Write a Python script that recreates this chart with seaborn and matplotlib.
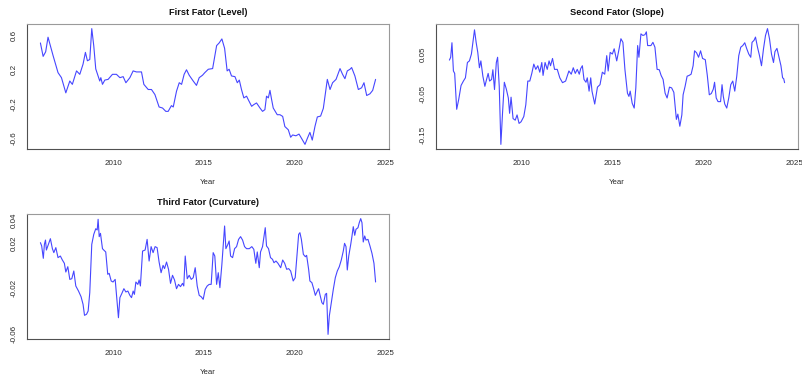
import matplotlib
matplotlib.use("Agg")
import matplotlib.pyplot as plt
import seaborn as sns
import pandas as pd
import numpy as np

# ---- Nelson-Siegel style factor series (decimal year, factor value) ----
level_year = [2006.00, 2006.15, 2006.29, 2006.42, 2006.70, 2006.97, 2007.16, 2007.40, 2007.62, 2007.76,
              2007.99, 2008.17, 2008.35, 2008.48, 2008.59, 2008.72, 2008.83, 2008.94, 2009.05, 2009.27,
              2009.33, 2009.42, 2009.55, 2009.73, 2009.97, 2010.19, 2010.38, 2010.56, 2010.71, 2010.93,
              2011.11, 2011.29, 2011.57, 2011.70, 2011.94, 2012.12, 2012.31, 2012.54, 2012.73, 2012.91,
              2013.04, 2013.22, 2013.32, 2013.50, 2013.65, 2013.78, 2013.92, 2014.05, 2014.20, 2014.42,
              2014.60, 2014.75, 2014.93, 2015.06, 2015.25, 2015.49, 2015.71, 2015.85, 2016.00, 2016.15,
              2016.29, 2016.40, 2016.53, 2016.72, 2016.85, 2016.96, 2017.08, 2017.21, 2017.36, 2017.45,
              2017.64, 2017.76, 2017.91, 2018.10, 2018.24, 2018.37, 2018.46, 2018.56, 2018.65, 2018.74,
              2018.83, 2019.05, 2019.20, 2019.35, 2019.47, 2019.66, 2019.79, 2019.90, 2020.08, 2020.25,
              2020.39, 2020.58, 2020.71, 2020.85, 2020.98, 2021.13, 2021.26, 2021.44, 2021.59, 2021.81,
              2021.96, 2022.10, 2022.29, 2022.51, 2022.65, 2022.78, 2022.91, 2023.06, 2023.15, 2023.33,
              2023.52, 2023.70, 2023.83, 2023.98, 2024.16, 2024.31, 2024.47]
level_value = [0.513, 0.356, 0.410, 0.580, 0.364, 0.167, 0.108, -0.069, 0.069, 0.030,
               0.187, 0.147, 0.266, 0.403, 0.305, 0.320, 0.680, 0.480, 0.210, 0.069,
               0.108, 0.030, 0.080, 0.088, 0.147, 0.147, 0.108, 0.120, 0.049, 0.108,
               0.187, 0.175, 0.175, 0.030, -0.030, -0.030, -0.089, -0.234, -0.246, -0.285,
               -0.285, -0.218, -0.234, -0.050, 0.049, 0.030, 0.147, 0.200, 0.136, 0.069,
               0.018, 0.108, 0.136, 0.167, 0.206, 0.214, 0.482, 0.513, 0.560, 0.450,
               0.187, 0.206, 0.128, 0.120, 0.049, 0.080, -0.030, -0.128, -0.108, -0.147,
               -0.226, -0.206, -0.187, -0.246, -0.285, -0.265, -0.108, -0.128, -0.040, -0.147,
               -0.246, -0.324, -0.324, -0.344, -0.462, -0.500, -0.587, -0.560, -0.570, -0.550,
               -0.600, -0.670, -0.600, -0.530, -0.620, -0.460, -0.350, -0.340, -0.250, 0.088,
               -0.030, 0.049, 0.088, 0.214, 0.147, 0.096, 0.187, 0.206, 0.226, 0.128,
               -0.030, -0.010, 0.049, -0.100, -0.080, -0.040, 0.088]

slope_year = [2006.04, 2006.11, 2006.18, 2006.26, 2006.33, 2006.44, 2006.55, 2006.68, 2006.81, 2006.92,
              2007.03, 2007.14, 2007.25, 2007.33, 2007.42, 2007.51, 2007.60, 2007.69, 2007.77, 2007.88,
              2007.99, 2008.06, 2008.17, 2008.25, 2008.36, 2008.43, 2008.52, 2008.62, 2008.69, 2008.78,
              2008.87, 2008.96, 2009.06, 2009.17, 2009.28, 2009.35, 2009.43, 2009.54, 2009.66, 2009.76,
              2009.87, 2009.98, 2010.13, 2010.24, 2010.35, 2010.46, 2010.57, 2010.68, 2010.79, 2010.90,
              2011.01, 2011.12, 2011.19, 2011.30, 2011.42, 2011.52, 2011.60, 2011.71, 2011.82, 2011.97,
              2012.11, 2012.26, 2012.43, 2012.61, 2012.74, 2012.85, 2012.96, 2013.07, 2013.18, 2013.26,
              2013.35, 2013.44, 2013.55, 2013.62, 2013.72, 2013.81, 2013.88, 2014.03, 2014.18, 2014.32,
              2014.45, 2014.58, 2014.69, 2014.77, 2014.88, 2015.00, 2015.10, 2015.24, 2015.37, 2015.47,
              2015.58, 2015.69, 2015.83, 2015.91, 2015.98, 2016.09, 2016.20, 2016.29, 2016.39, 2016.46,
              2016.57, 2016.68, 2016.79, 2016.87, 2016.94, 2017.12, 2017.23, 2017.34, 2017.46, 2017.58,
              2017.68, 2017.79, 2017.90, 2018.01, 2018.14, 2018.26, 2018.38, 2018.45, 2018.52, 2018.60,
              2018.71, 2018.82, 2018.89, 2019.00, 2019.11, 2019.22, 2019.33, 2019.44, 2019.52, 2019.63,
              2019.74, 2019.85, 2019.96, 2020.11, 2020.22, 2020.33, 2020.44, 2020.55, 2020.62, 2020.71,
              2020.81, 2020.95, 2021.03, 2021.10, 2021.18, 2021.29, 2021.40, 2021.51, 2021.62, 2021.73,
              2021.84, 2021.95, 2022.06, 2022.17, 2022.28, 2022.39, 2022.50, 2022.61, 2022.68, 2022.79,
              2022.87, 2022.98, 2023.09, 2023.20, 2023.31, 2023.42, 2023.53, 2023.64, 2023.75, 2023.86,
              2023.94, 2024.05, 2024.16, 2024.27, 2024.36, 2024.42, 2024.47]
slope_value = [0.035, 0.042, 0.078, 0.008, 0.002, -0.087, -0.063, -0.028, -0.017, -0.009,
               0.029, 0.033, 0.050, 0.079, 0.110, 0.079, 0.054, 0.016, 0.033, -0.005,
               -0.030, -0.017, 0.002, -0.017, -0.013, 0.011, -0.038, 0.029, 0.042, -0.030,
               -0.174, -0.097, -0.020, -0.037, -0.059, -0.097, -0.057, -0.110, -0.114, -0.101,
               -0.122, -0.118, -0.105, -0.076, -0.017, -0.017, 0.002, 0.025, 0.012, 0.021,
               0.005, 0.029, -0.003, 0.029, 0.012, 0.033, 0.021, 0.039, 0.012, 0.012,
               -0.009, -0.021, -0.017, 0.008, 0.000, 0.016, 0.002, 0.012, 0.000, 0.014,
               0.021, -0.013, -0.020, -0.009, -0.042, -0.009, -0.042, -0.074, -0.032, -0.026,
               0.005, 0.000, 0.046, 0.008, 0.054, 0.050, 0.063, 0.033, 0.063, 0.088,
               0.079, 0.012, -0.047, -0.055, -0.042, -0.072, -0.084, -0.034, 0.071, 0.042,
               0.100, 0.096, 0.098, 0.105, 0.071, 0.071, 0.079, 0.067, 0.012, 0.011,
               -0.003, -0.013, -0.047, -0.059, -0.032, -0.034, -0.045, -0.080, -0.112, -0.099,
               -0.129, -0.101, -0.051, -0.030, -0.005, -0.003, 0.000, 0.021, 0.058, 0.053,
               0.042, 0.058, 0.039, 0.036, -0.003, -0.051, -0.048, -0.037, -0.020, -0.059,
               -0.068, -0.068, -0.026, -0.055, -0.074, -0.084, -0.059, -0.026, -0.017, -0.042,
               -0.005, 0.046, 0.067, 0.071, 0.078, 0.063, 0.050, 0.042, 0.079, 0.084,
               0.092, 0.067, 0.046, 0.021, 0.063, 0.096, 0.113, 0.088, 0.050, 0.029,
               0.056, 0.064, 0.042, 0.021, -0.009, -0.011, -0.021]

curv_year = [2006.00, 2006.07, 2006.16, 2006.22, 2006.28, 2006.33, 2006.44, 2006.55, 2006.66, 2006.74,
             2006.85, 2006.97, 2007.10, 2007.21, 2007.32, 2007.40, 2007.51, 2007.62, 2007.73, 2007.84,
             2007.95, 2008.10, 2008.24, 2008.35, 2008.43, 2008.54, 2008.63, 2008.72, 2008.83, 2008.94,
             2009.05, 2009.13, 2009.18, 2009.24, 2009.31, 2009.42, 2009.49, 2009.60, 2009.71, 2009.79,
             2009.90, 2010.00, 2010.12, 2010.23, 2010.30, 2010.38, 2010.49, 2010.60, 2010.71, 2010.82,
             2010.93, 2011.02, 2011.11, 2011.18, 2011.26, 2011.37, 2011.44, 2011.51, 2011.63, 2011.77,
             2011.88, 2011.99, 2012.10, 2012.21, 2012.32, 2012.43, 2012.54, 2012.65, 2012.76, 2012.84,
             2012.95, 2013.06, 2013.17, 2013.28, 2013.39, 2013.50, 2013.61, 2013.72, 2013.83, 2013.90,
             2013.98, 2014.09, 2014.20, 2014.31, 2014.42, 2014.53, 2014.64, 2014.75, 2014.86, 2014.97,
             2015.08, 2015.19, 2015.30, 2015.41, 2015.52, 2015.61, 2015.71, 2015.80, 2015.89, 2016.00,
             2016.07, 2016.15, 2016.22, 2016.33, 2016.40, 2016.48, 2016.59, 2016.70, 2016.81, 2016.92,
             2017.03, 2017.14, 2017.25, 2017.36, 2017.51, 2017.65, 2017.76, 2017.87, 2017.95, 2018.06,
             2018.13, 2018.24, 2018.39, 2018.46, 2018.57, 2018.68, 2018.79, 2018.87, 2018.98, 2019.09,
             2019.24, 2019.35, 2019.46, 2019.57, 2019.68, 2019.79, 2019.86, 2019.93, 2020.04, 2020.15,
             2020.23, 2020.30, 2020.38, 2020.49, 2020.60, 2020.67, 2020.78, 2020.85, 2020.96, 2021.04,
             2021.15, 2021.26, 2021.33, 2021.40, 2021.51, 2021.59, 2021.70, 2021.77, 2021.85, 2021.92,
             2022.03, 2022.14, 2022.25, 2022.36, 2022.47, 2022.58, 2022.69, 2022.76, 2022.84, 2022.91,
             2022.99, 2023.10, 2023.17, 2023.24, 2023.32, 2023.39, 2023.50, 2023.57, 2023.65, 2023.72,
             2023.79, 2023.87, 2023.94, 2024.05, 2024.16, 2024.27, 2024.38, 2024.47]
curv_value = [0.0203, 0.0174, 0.0065, 0.0188, 0.0226, 0.0138, 0.0188, 0.0238, 0.0150, 0.0115,
              0.0159, 0.0071, 0.0085, 0.0050, 0.0021, -0.0056, -0.0009, -0.0121, -0.0115, -0.0047,
              -0.0179, -0.0224, -0.0274, -0.0341, -0.0438, -0.0429, -0.0400, -0.0238, 0.0188, 0.0276,
              0.0326, 0.0315, 0.0409, 0.0256, 0.0285, 0.0150, 0.0138, 0.0121, -0.0076, -0.0068,
              -0.0135, -0.0144, -0.0121, -0.0326, -0.0459, -0.0282, -0.0244, -0.0203, -0.0232, -0.0224,
              -0.0262, -0.0282, -0.0224, -0.0253, -0.0144, -0.0165, -0.0126, -0.0179, 0.0129, 0.0138,
              0.0232, 0.0041, 0.0168, 0.0115, 0.0168, 0.0159, 0.0032, -0.0062, 0.0003, -0.0026,
              0.0032, -0.0032, -0.0156, -0.0085, -0.0126, -0.0203, -0.0165, -0.0185, -0.0156, -0.0179,
              0.0085, -0.0115, -0.0085, -0.0121, -0.0106, -0.0018, -0.0179, -0.0262, -0.0274, -0.0297,
              -0.0209, -0.0179, -0.0165, -0.0165, 0.0115, 0.0085, -0.0165, -0.0062, -0.0194, 0.0012,
              0.0168, 0.0350, 0.0150, 0.0188, 0.0218, 0.0085, 0.0071, 0.0150, 0.0168, 0.0232,
              0.0256, 0.0226, 0.0168, 0.0150, 0.0150, 0.0168, 0.0144, 0.0021, 0.0121, -0.0018,
              0.0121, 0.0168, 0.0335, 0.0174, 0.0150, 0.0071, 0.0056, 0.0026, 0.0041, 0.0021,
              -0.0018, 0.0050, 0.0021, -0.0032, -0.0026, -0.0047, -0.0091, -0.0135, -0.0106, 0.0115,
              0.0276, 0.0291, 0.0232, 0.0100, 0.0079, 0.0091, -0.0032, -0.0135, -0.0150, -0.0194,
              -0.0262, -0.0224, -0.0203, -0.0253, -0.0326, -0.0341, -0.0253, -0.0244, -0.0606, -0.0444,
              -0.0326, -0.0209, -0.0106, -0.0047, -0.0009, 0.0050, 0.0129, 0.0197, 0.0168, -0.0038,
              0.0085, 0.0188, 0.0262, 0.0344, 0.0268, 0.0321, 0.0335, 0.0379, 0.0415, 0.0379,
              0.0209, 0.0262, 0.0226, 0.0232, 0.0174, 0.0109, 0.0021, -0.0144]

panel_titles = ["First Fator (Level)", "Second Fator (Slope)", "Third Fator (Curvature)"]
x_ticks = [2010, 2015, 2020, 2025]
level_ticks = [-0.6, -0.4, -0.2, 0.0, 0.2, 0.4, 0.6]
level_labels = ["-0.6", "", "-0.2", "", "0.2", "", "0.6"]
slope_ticks = [-0.15, -0.10, -0.05, 0.0, 0.05, 0.10]
slope_labels = ["-0.15", "", "-0.05", "", "0.05", ""]
curv_ticks = [-0.06, -0.04, -0.02, 0.0, 0.02, 0.04]
curv_labels = ["-0.06", "", "-0.02", "", "0.02", "0.04"]

sns.set_style("white")
plt.rcParams["font.family"] = ["Liberation Sans", "DejaVu Sans"]

W, H = 802, 378
fig = plt.figure(figsize=(W / 100, H / 100), dpi=100)


def px_axes(left, top, right, bottom):
    return fig.add_axes([left / W, 1 - bottom / H, (right - left) / W, (bottom - top) / H])


axes = [
    px_axes(27, 24, 389, 149),
    px_axes(436, 24, 798, 149),
    px_axes(27, 214, 389, 339),
]

series = [
    (level_year, level_value, level_ticks, level_labels),
    (slope_year, slope_value, slope_ticks, slope_labels),
    (curv_year, curv_value, curv_ticks, curv_labels),
]

dark_edge = "#505050"
light_edge = "#9a9a9a"
for ax, (yr, val, yt, yl), title in zip(axes, series, panel_titles):
    df = pd.DataFrame({"Year": yr, "value": val})
    sns.lineplot(data=df, x="Year", y="value", ax=ax, color="#4646ff",
                 linewidth=0.8, estimator=None, sort=False)
    # R-style 4% padding around the data range
    xr = max(yr) - min(yr)
    ax.set_xlim(min(yr) - 0.04 * xr, max(yr) + 0.04 * xr)
    vr = max(val) - min(val)
    ax.set_ylim(min(val) - 0.04 * vr, max(val) + 0.04 * vr)

    ax.set_xticks(x_ticks)
    ax.set_xticklabels([str(t) for t in x_ticks])
    ax.set_yticks(yt)
    ax.set_yticklabels(yl)
    ax.tick_params(axis="both", which="major", direction="out", length=3.6,
                   width=0.7, color="#666666", labelsize=5.8, labelcolor="#2a2a2a")
    ax.tick_params(axis="x", pad=4)
    ax.tick_params(axis="y", pad=3, labelrotation=90)
    for lab in ax.get_yticklabels():
        lab.set_verticalalignment("center")
    for name, sp in ax.spines.items():
        sp.set_visible(True)
        sp.set_color(dark_edge if name in ("left", "bottom") else light_edge)
        sp.set_linewidth(0.8)

    ax.set_title(title, fontsize=6.7, fontweight="bold", pad=6.5, color="#111111")
    ax.set_xlabel("Year", fontsize=5.6, color="#2a2a2a")
    ax.xaxis.set_label_coords(0.5, -(182.7 - 149) / 125)
    ax.xaxis.label.set_verticalalignment("center")
    ax.set_ylabel("")
    ax.grid(False)

fig.savefig("out.png", dpi=100, facecolor="white")
